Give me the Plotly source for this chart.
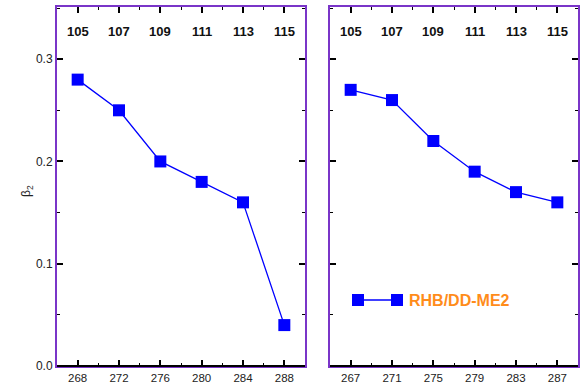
import plotly.graph_objects as go

# ---- data ----
left_A = [268, 272, 276, 280, 284, 288]
left_beta = [0.28, 0.25, 0.20, 0.18, 0.16, 0.04]
right_A = [267, 271, 275, 279, 283, 287]
right_beta = [0.27, 0.26, 0.22, 0.19, 0.17, 0.16]
top_Z = [105, 107, 109, 111, 113, 115]
series_name = "RHB/DD-ME2"

W, H = 584, 383
PURPLE = "#7A35C8"
BLUE = "#0000FF"
ORANGE = "#FF8C1A"
FONT = "Liberation Sans, Arial, sans-serif"

fig = go.Figure()

marker = dict(symbol="square", size=12, color=BLUE, line=dict(width=0))
fig.add_trace(go.Scatter(x=left_A, y=left_beta, mode="lines+markers",
                         line=dict(color=BLUE, width=1.3), marker=marker,
                         xaxis="x", yaxis="y", showlegend=False))
fig.add_trace(go.Scatter(x=right_A, y=right_beta, mode="lines+markers",
                         line=dict(color=BLUE, width=1.3), marker=marker,
                         xaxis="x2", yaxis="y2", showlegend=False))

dl = [57 / W, 305 / W]
dr = [330 / W, 578 / W]

tickfont = dict(family=FONT, size=12, color="#222")
xtickfont = dict(family=FONT, size=11.5, color="#222")

def xax(domain, rng, t0, anchor):
    return dict(domain=domain, range=rng, anchor=anchor, tick0=t0, dtick=4,
                ticks="inside", ticklen=6, tickwidth=1.5, tickcolor="black",
                minor=dict(tick0=t0, dtick=2, ticks="inside", ticklen=3, tickwidth=1, tickcolor="black"),
                showline=True, linecolor=PURPLE, linewidth=2, mirror="ticks",
                showgrid=False, zeroline=False, tickfont=xtickfont, fixedrange=True,
                ticklabelstandoff=0)

def yax(anchor, labels):
    return dict(domain=[0, 1], range=[0, 0.351], anchor=anchor, dtick=0.1, tick0=0,
                tickformat=".1f", showticklabels=labels,
                ticks="inside", ticklen=6, tickwidth=1.5, tickcolor="black",
                minor=dict(dtick=0.05, ticks="inside", ticklen=3, tickwidth=1, tickcolor="black"),
                showline=True, linecolor=PURPLE, linewidth=2, mirror="ticks",
                showgrid=False, zeroline=False, tickfont=tickfont, fixedrange=True)

annotations = [
    dict(text="β<sub>2</sub>", x=17 / W, y=(366 - 191) / 359, xref="paper", yref="paper",
         textangle=-90, showarrow=False, font=dict(family=FONT, size=12, color="#222")),
]
# top labels (proton number) placed at the matching mass number of each panel
for xs, xr, yr in [(left_A, "x", "y domain"), (right_A, "x2", "y2 domain")]:
    for a, z in zip(xs, top_Z):
        annotations.append(dict(text="<b>%d</b>" % z, x=a, y=(366 - 32) / 359, xref=xr, yref=yr,
                                showarrow=False, xanchor="center", yanchor="middle",
                                font=dict(family=FONT, size=13, color="#111")))

# legend sample inside right panel
annotations.append(dict(text="<b>%s</b>" % series_name, x=(407 - 330) / 248, y=(366 - 300) / 359,
                        xref="x2 domain", yref="y2 domain", xanchor="left", yanchor="middle",
                        showarrow=False, font=dict(family=FONT, size=16, color=ORANGE)))

shapes = [
    # black bottom axis line on both panels
    dict(type="line", xref="x domain", yref="y domain", x0=0, x1=1, y0=0, y1=0,
         line=dict(color="black", width=2)),
    dict(type="line", xref="x2 domain", yref="y2 domain", x0=0, x1=1, y0=0, y1=0,
         line=dict(color="black", width=2)),
    # legend sample line
    dict(type="line", xref="x2 domain", yref="y2 domain",
         x0=(358 - 330) / 248, x1=(398 - 330) / 248, y0=(366 - 300) / 359, y1=(366 - 300) / 359,
         line=dict(color=BLUE, width=1.3)),
]
for lx in [358, 397]:
    cx = (lx - 330) / 248
    cy = (366 - 300) / 359
    shapes.append(dict(type="rect", xref="x2 domain", yref="y2 domain",
                       x0=cx - 6 / 248, x1=cx + 6 / 248, y0=cy - 6 / 359, y1=cy + 6 / 359,
                       fillcolor=BLUE, line=dict(width=0)))

fig.update_layout(
    width=W, height=H,
    margin=dict(l=0, r=0, t=7, b=17, autoexpand=False),
    paper_bgcolor="white", plot_bgcolor="white",
    xaxis=xax(dl, [266, 290], 268, "y"),
    xaxis2=xax(dr, [265, 289], 267, "y2"),
    yaxis=yax("x", True),
    yaxis2=yax("x2", False),
    annotations=annotations,
    shapes=shapes,
)

fig.write_html("out.html", config={"displayModeBar": False},
               post_script="document.body.style.margin='0';document.body.style.overflow='hidden';")
